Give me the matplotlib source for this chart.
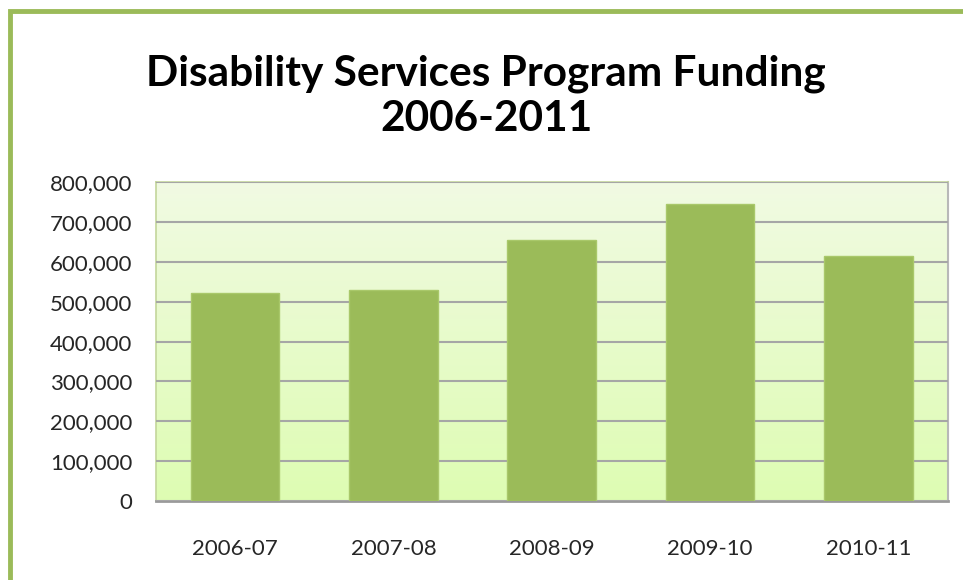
import matplotlib.pyplot as plt
import numpy as np
from matplotlib.patches import Rectangle
from matplotlib.ticker import FuncFormatter

years = ["2006-07", "2007-08", "2008-09", "2009-10", "2010-11"]
funding = [522000, 529000, 654000, 744000, 615000]

plt.rcParams["font.family"] = ["Lato", "DejaVu Sans"]

fig = plt.figure(figsize=(9.63, 5.80), dpi=100)
ax = fig.add_axes([0.162, 0.136, 0.822, 0.550])

# green chart frame
fig.patches.append(Rectangle((10 / 963, -0.2), 2.0, 1.2 - 11 / 580,
                             transform=fig.transFigure, fill=False,
                             edgecolor="#9BBB59", linewidth=3.5, zorder=0))

# gradient plot area, pale at top, greener at bottom
top = np.array([0.945, 0.980, 0.890])
bottom = np.array([0.870, 0.990, 0.700])
t = np.linspace(0, 1, 256)[:, None]
grad = (top * (1 - t) + bottom * t)[:, None, :]
ax.imshow(grad, extent=[-0.5, 4.5, 0, 800000], aspect="auto",
          origin="upper", zorder=0)

x = np.arange(len(years))
ax.bar(x, funding, width=0.56, color="#9BBB59", edgecolor="#A9C86A",
       linewidth=1, zorder=3)

ax.set_xlim(-0.5, 4.5)
ax.set_ylim(0, 800000)
ax.set_yticks(np.arange(0, 800001, 100000))
ax.yaxis.set_major_formatter(FuncFormatter(lambda v, p: f"{int(v):,}"))
ax.set_xticks(x)
ax.set_xticklabels(years)
ax.grid(axis="y", color="#A6A6A6", linewidth=1.5, zorder=1)
ax.set_axisbelow(False)

for side in ["left", "top"]:
    ax.spines[side].set_color("#C3D69B")
    ax.spines[side].set_linewidth(1.2)
ax.spines["right"].set_color("#B8B8B8")
ax.spines["bottom"].set_color("#9A9A9A")
ax.spines["right"].set_linewidth(1.5)
ax.spines["bottom"].set_linewidth(2)

ax.tick_params(axis="both", length=0, labelsize=16, colors="#262626")
ax.tick_params(axis="y", pad=17)
ax.tick_params(axis="x", pad=27)

fig.text(0.505, 0.834, "Disability Services Program Funding\n2006-2011",
         ha="center", va="center", fontsize=30.5, fontweight="bold",
         linespacing=1.25, color="black")

fig.savefig("out.png", dpi=100)
